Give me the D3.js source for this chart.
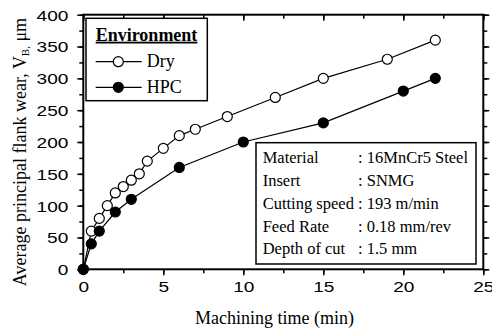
<!DOCTYPE html>
<html>
<head>
<meta charset="utf-8">
<script src="https://cdn.jsdelivr.net/npm/d3@7"></script>
<style>
  body { margin: 0; background: #fff; }
  svg { display: block; }
</style>
</head>
<body>
<div class="chart"></div>
<script>
// data
const dryTime = [0, 0.5, 1, 1.5, 2, 2.5, 3, 3.5, 4, 5, 6, 7, 9, 12, 15, 19, 22];
const dryWear = [0, 60, 80, 100, 120, 130, 140, 150, 170, 190, 210, 220, 240, 270, 300, 330, 360];
const hpcTime = [0, 0.5, 1, 2, 3, 6, 10, 15, 20, 22];
const hpcWear = [0, 40, 60, 90, 110, 160, 200, 230, 280, 300];
const xTicks = [0, 5, 10, 15, 20, 25];
const yTicks = [0, 50, 100, 150, 200, 250, 300, 350, 400];
const infoLabels = ['Material', 'Insert', 'Cutting speed', 'Feed Rate', 'Depth of cut'];
const infoValues = [': 16MnCr5 Steel', ': SNMG', ': 193 m/min', ': 0.18 mm/rev', ': 1.5 mm'];

const W = 492, H = 331;
const m = {left: 83.3, top: 14.7, right: 8.7, bottom: 61.7};
const w = W - m.left - m.right, h = H - m.top - m.bottom;
const serif = '"Liberation Serif", "Times New Roman", serif';
const sans = '"Liberation Sans", Arial, sans-serif';

const svg = d3.select('.chart').append('svg')
    .attr('width', W).attr('height', H);
const g = svg.append('g').attr('transform', 'translate(' + m.left + ',' + m.top + ')');

const x = d3.scaleLinear().domain([0, 25]).range([0, w]);
const y = d3.scaleLinear().domain([0, 400]).range([h, 0]);

const minorX = d3.range(0, 25.01, 2.5);
const minorY = d3.range(0, 400.1, 25);

function clean(sel) {
    sel.select('.domain').remove();
    sel.selectAll('line').attr('stroke', '#000').attr('stroke-width', 1.5);
}

// minor ticks
g.append('g').attr('transform', 'translate(0,' + h + ')')
    .call(d3.axisBottom(x).tickValues(minorX).tickSize(4).tickFormat(''))
    .call(clean);
g.append('g')
    .call(d3.axisLeft(y).tickValues(minorY).tickSize(4).tickFormat(''))
    .call(clean);
g.append('g')
    .call(d3.axisBottom(x).tickValues(minorX).tickSize(4).tickFormat(''))
    .call(clean);
g.append('g').attr('transform', 'translate(' + w + ',0)')
    .call(d3.axisRight(y).tickValues(minorY).tickSize(4).tickFormat(''))
    .call(clean);

// major ticks with labels
const xa = g.append('g').attr('transform', 'translate(0,' + h + ')')
    .call(d3.axisBottom(x).tickValues(xTicks).tickSize(6).tickFormat(d3.format('d')))
    .call(clean);
xa.selectAll('text')
    .attr('y', 12).attr('dy', '0.71em')
    .attr('transform', 'scale(1.27,1)')
    .attr('fill', '#000')
    .style('font-family', sans).style('font-size', '15px');

const ya = g.append('g')
    .call(d3.axisLeft(y).tickValues(yTicks).tickSize(6).tickFormat(d3.format('d')))
    .call(clean);
ya.selectAll('text')
    .attr('x', -15 / 1.27).attr('dy', '0.36em')
    .attr('transform', 'scale(1.27,1)')
    .attr('fill', '#000')
    .style('font-family', sans).style('font-size', '15px');

g.append('g')
    .call(d3.axisBottom(x).tickValues(xTicks).tickSize(6).tickFormat(''))
    .call(clean);
g.append('g').attr('transform', 'translate(' + w + ',0)')
    .call(d3.axisRight(y).tickValues(yTicks).tickSize(6).tickFormat(''))
    .call(clean);

// frame
g.append('rect')
    .attr('x', 0).attr('y', 0).attr('width', w).attr('height', h)
    .attr('fill', 'none').attr('stroke', '#000').attr('stroke-width', 2);

// series
const dry = dryTime.map((t, i) => ({t: t, v: dryWear[i]}));
const hpc = hpcTime.map((t, i) => ({t: t, v: hpcWear[i]}));
const line = d3.line().x(d => x(d.t)).y(d => y(d.v));

g.append('path').datum(hpc).attr('d', line)
    .attr('fill', 'none').attr('stroke', '#000').attr('stroke-width', 1.2);
g.append('path').datum(dry).attr('d', line)
    .attr('fill', 'none').attr('stroke', '#000').attr('stroke-width', 1.2);

g.selectAll('circle.dry').data(dry).enter().append('circle')
    .attr('class', 'dry')
    .attr('cx', d => x(d.t)).attr('cy', d => y(d.v)).attr('r', 5)
    .attr('fill', '#fff').attr('stroke', '#000').attr('stroke-width', 1.2);
g.selectAll('circle.hpc').data(hpc).enter().append('circle')
    .attr('class', 'hpc')
    .attr('cx', d => x(d.t)).attr('cy', d => y(d.v)).attr('r', 5)
    .attr('fill', '#000').attr('stroke', '#000').attr('stroke-width', 1.2);

// axis titles
svg.append('text')
    .attr('x', 274.5).attr('y', 324)
    .attr('text-anchor', 'middle')
    .style('font-family', serif).style('font-size', '18px')
    .text('Machining time (min)');

const yt = svg.append('text')
    .attr('transform', 'translate(26,152) rotate(-90)')
    .attr('text-anchor', 'middle')
    .style('font-family', serif).style('font-size', '18px');
yt.append('tspan').text('Average principal flank wear, V');
yt.append('tspan').attr('dy', 3).style('font-size', '11px').text('B');
yt.append('tspan').attr('dy', 0).style('font-size', '11px').text(',');
yt.append('tspan').attr('dy', -3).text(' μm');

// legend
const lg = svg.append('g');
lg.append('rect')
    .attr('x', 86).attr('y', 18.3).attr('width', 121.3).attr('height', 82.4)
    .attr('fill', '#fff').attr('stroke', '#000').attr('stroke-width', 1.5);
lg.append('text')
    .attr('x', 95.7).attr('y', 40.7)
    .style('font-family', serif).style('font-size', '18px').style('font-weight', 'bold')
    .style('text-decoration', 'underline')
    .text('Environment');
const legendItems = [{name: 'Dry', fill: '#fff', cy: 61.7}, {name: 'HPC', fill: '#000', cy: 87.3}];
const li = lg.selectAll('g.item').data(legendItems).enter().append('g').attr('class', 'item');
li.append('line')
    .attr('x1', 95.7).attr('x2', 141.7)
    .attr('y1', d => d.cy).attr('y2', d => d.cy)
    .attr('stroke', '#000').attr('stroke-width', 1.2);
li.append('circle')
    .attr('cx', 118.3).attr('cy', d => d.cy).attr('r', 5)
    .attr('fill', d => d.fill).attr('stroke', '#000').attr('stroke-width', 1.2);
li.append('text')
    .attr('x', 146.7).attr('y', d => d.cy + 5.5)
    .style('font-family', serif).style('font-size', '18px')
    .text(d => d.name);

// info box
const ib = svg.append('g');
ib.append('rect')
    .attr('x', 256).attr('y', 142.7).attr('width', 220).attr('height', 121.3)
    .attr('fill', '#fff').attr('stroke', '#000').attr('stroke-width', 1.5);
infoLabels.forEach((lab, i) => {
    ib.append('text')
        .attr('x', 262.7).attr('y', 163.3 + i * 22.75)
        .style('font-family', serif).style('font-size', '16.5px')
        .text(lab);
    ib.append('text')
        .attr('x', 358).attr('y', 163.3 + i * 22.75)
        .style('font-family', serif).style('font-size', '16.5px')
        .text(infoValues[i]);
});
</script>
</body>
</html>
